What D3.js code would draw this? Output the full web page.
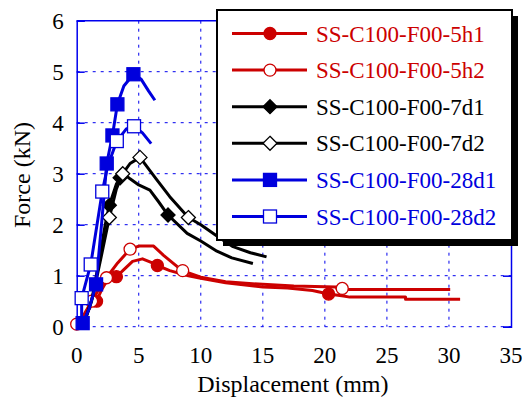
<!DOCTYPE html>
<html>
<head>
<meta charset="utf-8">
<script src="https://cdn.jsdelivr.net/npm/d3@7"></script>
<style>
  body { margin: 0; background: #fff; }
</style>
</head>
<body>
<div id="chart"></div>
<script>
// svg container
var svgWidth = 522;
var svgHeight = 401;

var margin = { top: 20.7, right: 11, bottom: 74.3, left: 76.7 };

var chartWidth = svgWidth - margin.left - margin.right;
var chartHeight = svgHeight - margin.top - margin.bottom;

var serif = "Liberation Serif";

// tick values
var xTicks = [0, 5, 10, 15, 20, 25, 30, 35];
var yTicks = [0, 1, 2, 3, 4, 5, 6];

// series names + colours
var seriesNames = ["SS-C100-F00-5h1", "SS-C100-F00-5h2", "SS-C100-F00-7d1",
  "SS-C100-F00-7d2", "SS-C100-F00-28d1", "SS-C100-F00-28d2"];
var seriesColors = ["#cc0000", "#cc0000", "#000000", "#000000", "#0000dd", "#0000dd"];
var seriesMarkers = ["circle", "circle", "diamond", "diamond", "square", "square"];
var seriesFilled = [true, false, true, false, true, false];

// curves: [displacement, force]
var curve5h1 = [[0, 0.05], [0.6, 0.2], [1.2, 0.42], [1.6, 0.5], [2.0, 0.72], [2.5, 0.93],
  [3.2, 0.98], [3.8, 1.12], [4.5, 1.28], [5.3, 1.33], [6.0, 1.26], [6.5, 1.2], [7.5, 1.1],
  [9.0, 1.0], [10, 0.95], [12, 0.86], [15, 0.78], [17, 0.76], [19, 0.71], [20.3, 0.64],
  [21.5, 0.6], [22, 0.58], [26.5, 0.58], [26.5, 0.54], [30.9, 0.54]];
var curve5h2 = [[0, 0.05], [0.5, 0.2], [1.2, 0.5], [1.8, 0.74], [2.4, 0.96], [3.3, 1.25],
  [4.3, 1.52], [5.0, 1.58], [6.2, 1.58], [7.0, 1.4], [8.5, 1.1], [10, 0.97], [12, 0.88],
  [15, 0.83], [17.5, 0.8], [20.9, 0.78], [21.0, 0.73], [30.1, 0.73]];
var curve7d1 = [[0.5, 0], [1.2, 0.5], [1.8, 1.3], [2.3, 2.0], [2.63, 2.38], [3.2, 2.8],
  [3.8, 3.0], [4.3, 2.9], [5.0, 2.78], [5.9, 2.68], [6.6, 2.45], [7.36, 2.19], [8.9, 1.83],
  [10, 1.68], [11.3, 1.48], [12.5, 1.35], [14.2, 1.24]];
var curve7d2 = [[0.5, 0], [1.3, 0.6], [2.0, 1.4], [2.63, 2.14], [3.2, 2.7], [3.71, 3.0],
  [4.3, 3.2], [5.1, 3.32], [6.4, 2.9], [7.5, 2.55], [9.0, 2.14], [10, 2.0], [11.3, 1.78],
  [12.6, 1.57], [14, 1.45], [15.3, 1.37]];
var curve28d1 = [[0.3, 0], [0.48, 0.07], [1.0, 0.35], [1.56, 0.83], [2.0, 2.0], [2.42, 3.2],
  [2.88, 3.75], [3.28, 4.36], [3.8, 4.72], [4.57, 4.95], [5.2, 4.85], [5.8, 4.62], [6.3, 4.44]];
var curve28d2 = [[0.4, 0], [0.4, 0.56], [1.13, 1.22], [2.06, 2.65], [2.5, 3.15],
  [3.23, 3.64], [4.0, 3.88], [4.62, 3.93], [5.3, 3.8], [6.0, 3.59]];

// marker positions along each curve
var marks5h1 = [[1.6, 0.5], [3.2, 0.98], [6.5, 1.2], [20.3, 0.64]];
var marks5h2 = [[0, 0.05], [1.2, 0.5], [2.4, 0.96], [4.3, 1.52], [8.54, 1.1], [21.4, 0.75]];
var marks7d1 = [[2.63, 2.38], [3.5, 2.92], [7.36, 2.19]];
var marks7d2 = [[2.63, 2.14], [3.71, 3.0], [5.1, 3.32], [9.0, 2.14]];
var marks28d1 = [[0.48, 0.07], [1.56, 0.83], [2.42, 3.2], [2.88, 3.75], [3.28, 4.36], [4.57, 4.95]];
var marks28d2 = [[0.4, 0.56], [1.13, 1.22], [2.06, 2.65], [3.23, 3.64], [4.62, 3.93]];

var curves = [curve5h1, curve5h2, curve7d1, curve7d2, curve28d1, curve28d2];
var marks = [marks5h1, marks5h2, marks7d1, marks7d2, marks28d1, marks28d2];

// create svg container
var svg = d3.select("#chart")
  .append("svg")
  .attr("width", svgWidth)
  .attr("height", svgHeight);

var chartGroup = svg.append("g")
  .attr("transform", `translate(${margin.left}, ${margin.top})`);

// scales
var xLinearScale = d3.scaleLinear().domain([0, 35]).range([0, chartWidth]);
var yLinearScale = d3.scaleLinear().domain([0, 6]).range([chartHeight, 0]);

var gridColor = "#0000ee";

// dashed grid
chartGroup.selectAll(".vgrid")
  .data(xTicks.slice(1, -1))
  .enter()
  .append("line")
  .attr("x1", d => xLinearScale(d))
  .attr("x2", d => xLinearScale(d))
  .attr("y1", 0)
  .attr("y2", chartHeight)
  .attr("stroke", gridColor)
  .attr("stroke-width", 1)
  .attr("stroke-dasharray", "3,5");

chartGroup.selectAll(".hgrid")
  .data(yTicks.slice(0, -1))
  .enter()
  .append("line")
  .attr("x1", 0)
  .attr("x2", chartWidth)
  .attr("y1", d => yLinearScale(d))
  .attr("y2", d => yLinearScale(d))
  .attr("stroke", gridColor)
  .attr("stroke-width", 1)
  .attr("stroke-dasharray", "3,5");

// left / right / top frame with inward ticks
var yAxisLeft = d3.axisRight(yLinearScale).tickValues(yTicks).tickSize(8).tickFormat("");
var yAxisRight = d3.axisLeft(yLinearScale).tickValues(yTicks).tickSize(8).tickFormat("");

chartGroup.append("g").attr("class", "frame").call(yAxisLeft);
chartGroup.append("g").attr("class", "frame")
  .attr("transform", `translate(${chartWidth}, 0)`)
  .call(yAxisRight);
chartGroup.append("line")
  .attr("x1", 0).attr("x2", chartWidth)
  .attr("y1", 0).attr("y2", 0)
  .attr("stroke", gridColor).attr("stroke-width", 1.5);

chartGroup.selectAll(".frame path").attr("stroke", gridColor).attr("stroke-width", 1.5);
chartGroup.selectAll(".frame line").attr("stroke", gridColor).attr("stroke-width", 1.5);

// tick labels (plain text so the font sticks)
chartGroup.selectAll(".xlab")
  .data(xTicks)
  .enter()
  .append("text")
  .attr("x", d => xLinearScale(d))
  .attr("y", chartHeight + 36)
  .attr("text-anchor", "middle")
  .attr("font-family", serif)
  .attr("font-size", 23)
  .text(d => d);

chartGroup.selectAll(".ylab")
  .data(yTicks)
  .enter()
  .append("text")
  .attr("x", -13)
  .attr("y", d => yLinearScale(d) + 8)
  .attr("text-anchor", "end")
  .attr("font-family", serif)
  .attr("font-size", 23)
  .text(d => d);

// curves
var line = d3.line()
  .x(d => xLinearScale(d[0]))
  .y(d => yLinearScale(d[1]));

// marker drawing
function drawMarker(g, type, filled, color, cx, cy) {
  var fill = filled ? color : "#fff";
  if (type === "circle") {
    g.append("circle").attr("cx", cx).attr("cy", cy).attr("r", 6)
      .attr("fill", fill).attr("stroke", color).attr("stroke-width", 1.3);
  } else if (type === "square") {
    g.append("rect").attr("x", cx - 6.5).attr("y", cy - 6.5)
      .attr("width", 13).attr("height", 13)
      .attr("fill", fill).attr("stroke", color).attr("stroke-width", 1.3);
  } else {
    g.append("path")
      .attr("d", `M${cx},${cy - 7}L${cx + 7},${cy}L${cx},${cy + 7}L${cx - 7},${cy}Z`)
      .attr("fill", fill).attr("stroke", color).attr("stroke-width", 1.3);
  }
}

curves.forEach(function(c, i) {
  var g = chartGroup.append("g");
  g.append("path")
    .datum(c)
    .attr("d", line)
    .attr("fill", "none")
    .attr("stroke", seriesColors[i])
    .attr("stroke-width", 3)
    .attr("stroke-linejoin", "round");
  marks[i].forEach(function(m) {
    drawMarker(g, seriesMarkers[i], seriesFilled[i], seriesColors[i],
      xLinearScale(m[0]), yLinearScale(m[1]));
  });
});

// legend box with shadow
var legendX = 217, legendY = 10, legendW = 295, legendH = 230;
svg.append("rect")
  .attr("x", legendX + 6).attr("y", legendY + 6)
  .attr("width", legendW).attr("height", legendH)
  .attr("fill", "#000");
svg.append("rect")
  .attr("x", legendX).attr("y", legendY)
  .attr("width", legendW).attr("height", legendH)
  .attr("fill", "#fff").attr("stroke", "#000").attr("stroke-width", 2);

var legend = svg.append("g");
seriesNames.forEach(function(name, i) {
  var ly = 33.5 + i * 36.6;
  legend.append("line")
    .attr("x1", 232).attr("x2", 307)
    .attr("y1", ly).attr("y2", ly)
    .attr("stroke", seriesColors[i]).attr("stroke-width", 3);
  drawMarker(legend, seriesMarkers[i], seriesFilled[i], seriesColors[i], 270, ly);
  legend.append("text")
    .attr("x", 316).attr("y", ly + 8)
    .attr("font-family", serif)
    .attr("font-size", 23)
    .attr("fill", seriesColors[i])
    .text(name);
});

// axis titles
svg.append("text")
  .attr("text-anchor", "middle")
  .attr("x", margin.left + chartWidth / 2 - 1)
  .attr("y", 392)
  .attr("font-family", serif)
  .attr("font-size", 24)
  .text("Displacement (mm)");

svg.append("text")
  .attr("text-anchor", "middle")
  .attr("transform", "rotate(-90)")
  .attr("x", -175)
  .attr("y", 30)
  .attr("font-family", serif)
  .attr("font-size", 24)
  .text("Force (kN)");
</script>
</body>
</html>
